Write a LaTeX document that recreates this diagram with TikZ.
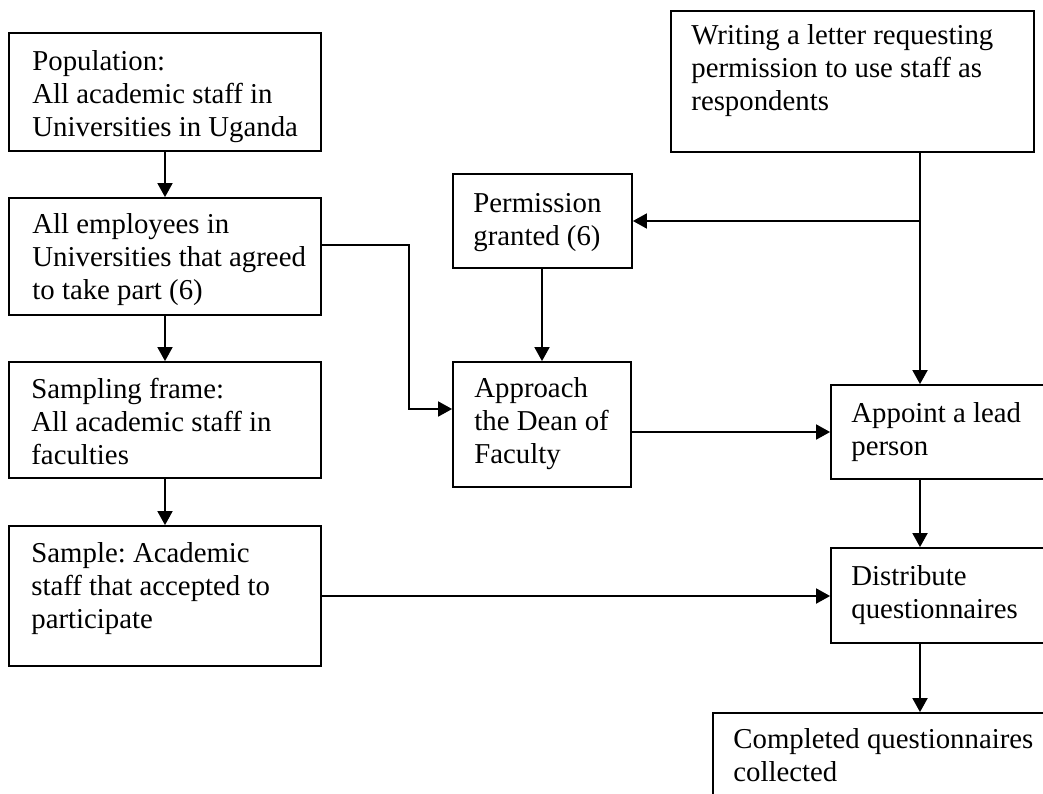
\documentclass[tikz,border=0pt]{standalone}
\usepackage{fontspec}
\setmainfont{Liberation Serif}
\usetikzlibrary{arrows.meta,fit}
\frenchspacing
\begin{document}
\begin{tikzpicture}[x=0.5pt,y=-0.5pt,
  box/.style={draw, line width=0.9pt, inner sep=0pt, rectangle},
  txt/.style={anchor=base west, inner sep=0pt, font=\fontsize{14.4pt}{16.5pt}\selectfont},
  link/.style={line width=0.9pt, -{Triangle[length=7pt,width=7.5pt]}}]
\useasboundingbox (0,0) rectangle (1043,793);
\clip (0,0) rectangle (1043,793);

% left column
\node[box, fit={(9,33) (321,151)}] (pop) {};
\node[txt] (popT) at (32,70) {\parbox[t]{180pt}{\raggedright Population:\\All academic staff in\\Universities in Uganda}};
\node[box, fit={(9,198) (321,315)}] (emp) {};
\node[txt] (empT) at (32,233) {\parbox[t]{180pt}{\raggedright All employees in\\Universities that agreed\\to take part (6)}};
\node[box, fit={(9,362) (321,478)}] (frame) {};
\node[txt] (frameT) at (31,398) {\parbox[t]{180pt}{\raggedright Sampling frame:\\All academic staff in\\faculties}};
\node[box, fit={(9,526) (321,666)}] (sample) {};
\node[txt] (sampleT) at (31,562) {\parbox[t]{180pt}{\raggedright Sample: Academic\\staff that accepted to\\participate}};

% middle column
\node[box, fit={(453,174) (632,268)}] (perm) {};
\node[txt] (permT) at (473,212) {\parbox[t]{180pt}{\raggedright Permission\\granted (6)}};
\node[box, fit={(453,362) (631,487)}] (appr) {};
\node[txt] (apprT) at (474,397) {\parbox[t]{180pt}{\raggedright Approach\\the Dean of\\Faculty}};

% right column
\node[box, fit={(671,11) (1034,152)}] (write) {};
\node[txt] (writeT) at (691,44) {\parbox[t]{200pt}{\raggedright Writing a letter requesting\\permission to use staff as\\respondents}};
\node[box, fit={(831,385) (1060,479)}] (appoint) {};
\node[txt] (appointT) at (851,422) {\parbox[t]{180pt}{\raggedright Appoint a lead\\person}};
\node[box, fit={(831,548) (1060,643)}] (distr) {};
\node[txt] (distrT) at (851,585) {\parbox[t]{180pt}{\raggedright Distribute\\questionnaires}};
\node[box, fit={(713,713) (1060,840)}] (compl) {};
\node[txt] (complT) at (733,748) {\parbox[t]{200pt}{\raggedright Completed questionnaires\\collected}};

% connectors
\coordinate (jx) at (920,221);
\coordinate (bend) at (409,409);
\draw[link] (pop) -- (emp);
\draw[link] (emp) -- (frame);
\draw[link] (frame) -- (sample);
\draw[link] (emp.east |- 0,245) -| (bend) -- (appr.west |- bend);
\draw[link] (write.south -| jx) -- (appoint.north -| jx);
\draw[link] (jx) -- (perm.east |- jx);
\draw[link] (perm.south -| appr.north) -- (appr.north);
\draw[link] (appr.east |- appoint.west) -- (appoint.west);
\draw[link] (sample.east) -- (distr.west |- sample.east);
\draw[link] (appoint.south -| jx) -- (distr.north -| jx);
\draw[link] (distr.south -| jx) -- (compl.north -| jx);
\end{tikzpicture}
\end{document}
